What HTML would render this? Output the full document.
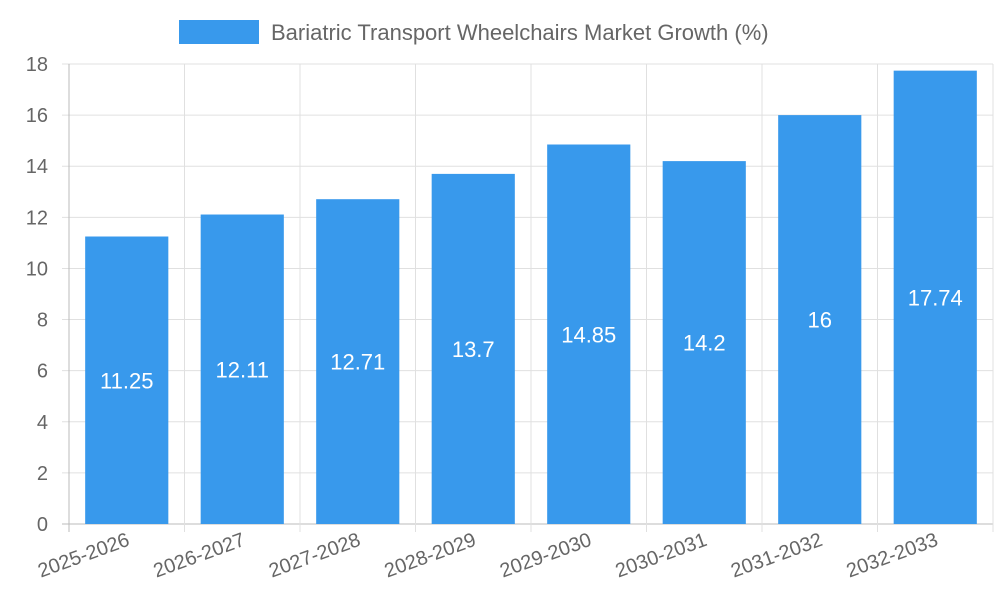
<!DOCTYPE html>
<html><head><meta charset="utf-8"><style>
html,body{margin:0;padding:0;background:#fff;}
svg{display:block;font-family:"Liberation Sans",sans-serif;}
</style></head><body>
<svg id="chart" width="1000" height="600">
<g>
<rect x="179" y="20" width="80" height="24" fill="#3899ec"></rect>
<text x="271" y="40" font-size="22" fill="#666">Bariatric Transport Wheelchairs Market Growth (%)</text>
</g>
<g id="grid"></g>
<g id="bars"></g>
<g id="labels"></g>
</svg>
<script>
const categories = ["2025-2026","2026-2027","2027-2028","2028-2029","2029-2030","2030-2031","2031-2032","2032-2033"];
const values = [11.25,12.11,12.71,13.7,14.85,14.2,16,17.74];
const yTicks = [0,2,4,6,8,10,12,14,16,18];

const NS="http://www.w3.org/2000/svg";
const L=69,R=993,T=64,B=524,yMax=18;
const bw=(R-L)/categories.length;
const y=v=>B-(v/yMax)*(B-T);
const x=i=>L+bw*i;
function mk(tag,attrs,parent){const e=document.createElementNS(NS,tag);for(const k in attrs)e.setAttribute(k,attrs[k]);parent.appendChild(e);return e;}
const grid=document.getElementById('grid'),bars=document.getElementById('bars'),labels=document.getElementById('labels');
yTicks.forEach(t=>{
  const ln=mk('line',{x1:L-7,x2:R,y1:y(t),y2:y(t),stroke:t===0?'#bbb':'#e0e0e0','stroke-width':1},grid);
  
  
  const tx=mk('text',{x:48,y:y(t)+7,'text-anchor':'end','font-size':20,fill:'#666'},labels);
  tx.textContent=t;
  
  
});
for(let i=0;i<=categories.length;i++){
  const ln=mk('line',{x1:x(i),x2:x(i),y1:T,y2:B+8,stroke:i===0?'#bbb':'#e0e0e0','stroke-width':1},grid);
  
  
}
categories.forEach((c,i)=>{
  const cx=x(i)+bw/2,w=bw*0.72;
  const r=mk('rect',{x:cx-w/2,y:y(values[i]),width:w,height:B-y(values[i]),fill:'#3899ec'},bars);
  
  
  const vt=mk('text',{x:cx,y:(y(values[i])+B)/2+8,'text-anchor':'middle','font-size':22,fill:'#fff'},labels);
  vt.textContent=values[i];
  
  
  const xt=mk('text',{x:cx+4,y:545,'text-anchor':'end','font-size':20,fill:'#666',transform:`rotate(-20 ${cx+4} 545)`},labels);
  xt.textContent=c;
  
  
});
</script>
</body></html>
